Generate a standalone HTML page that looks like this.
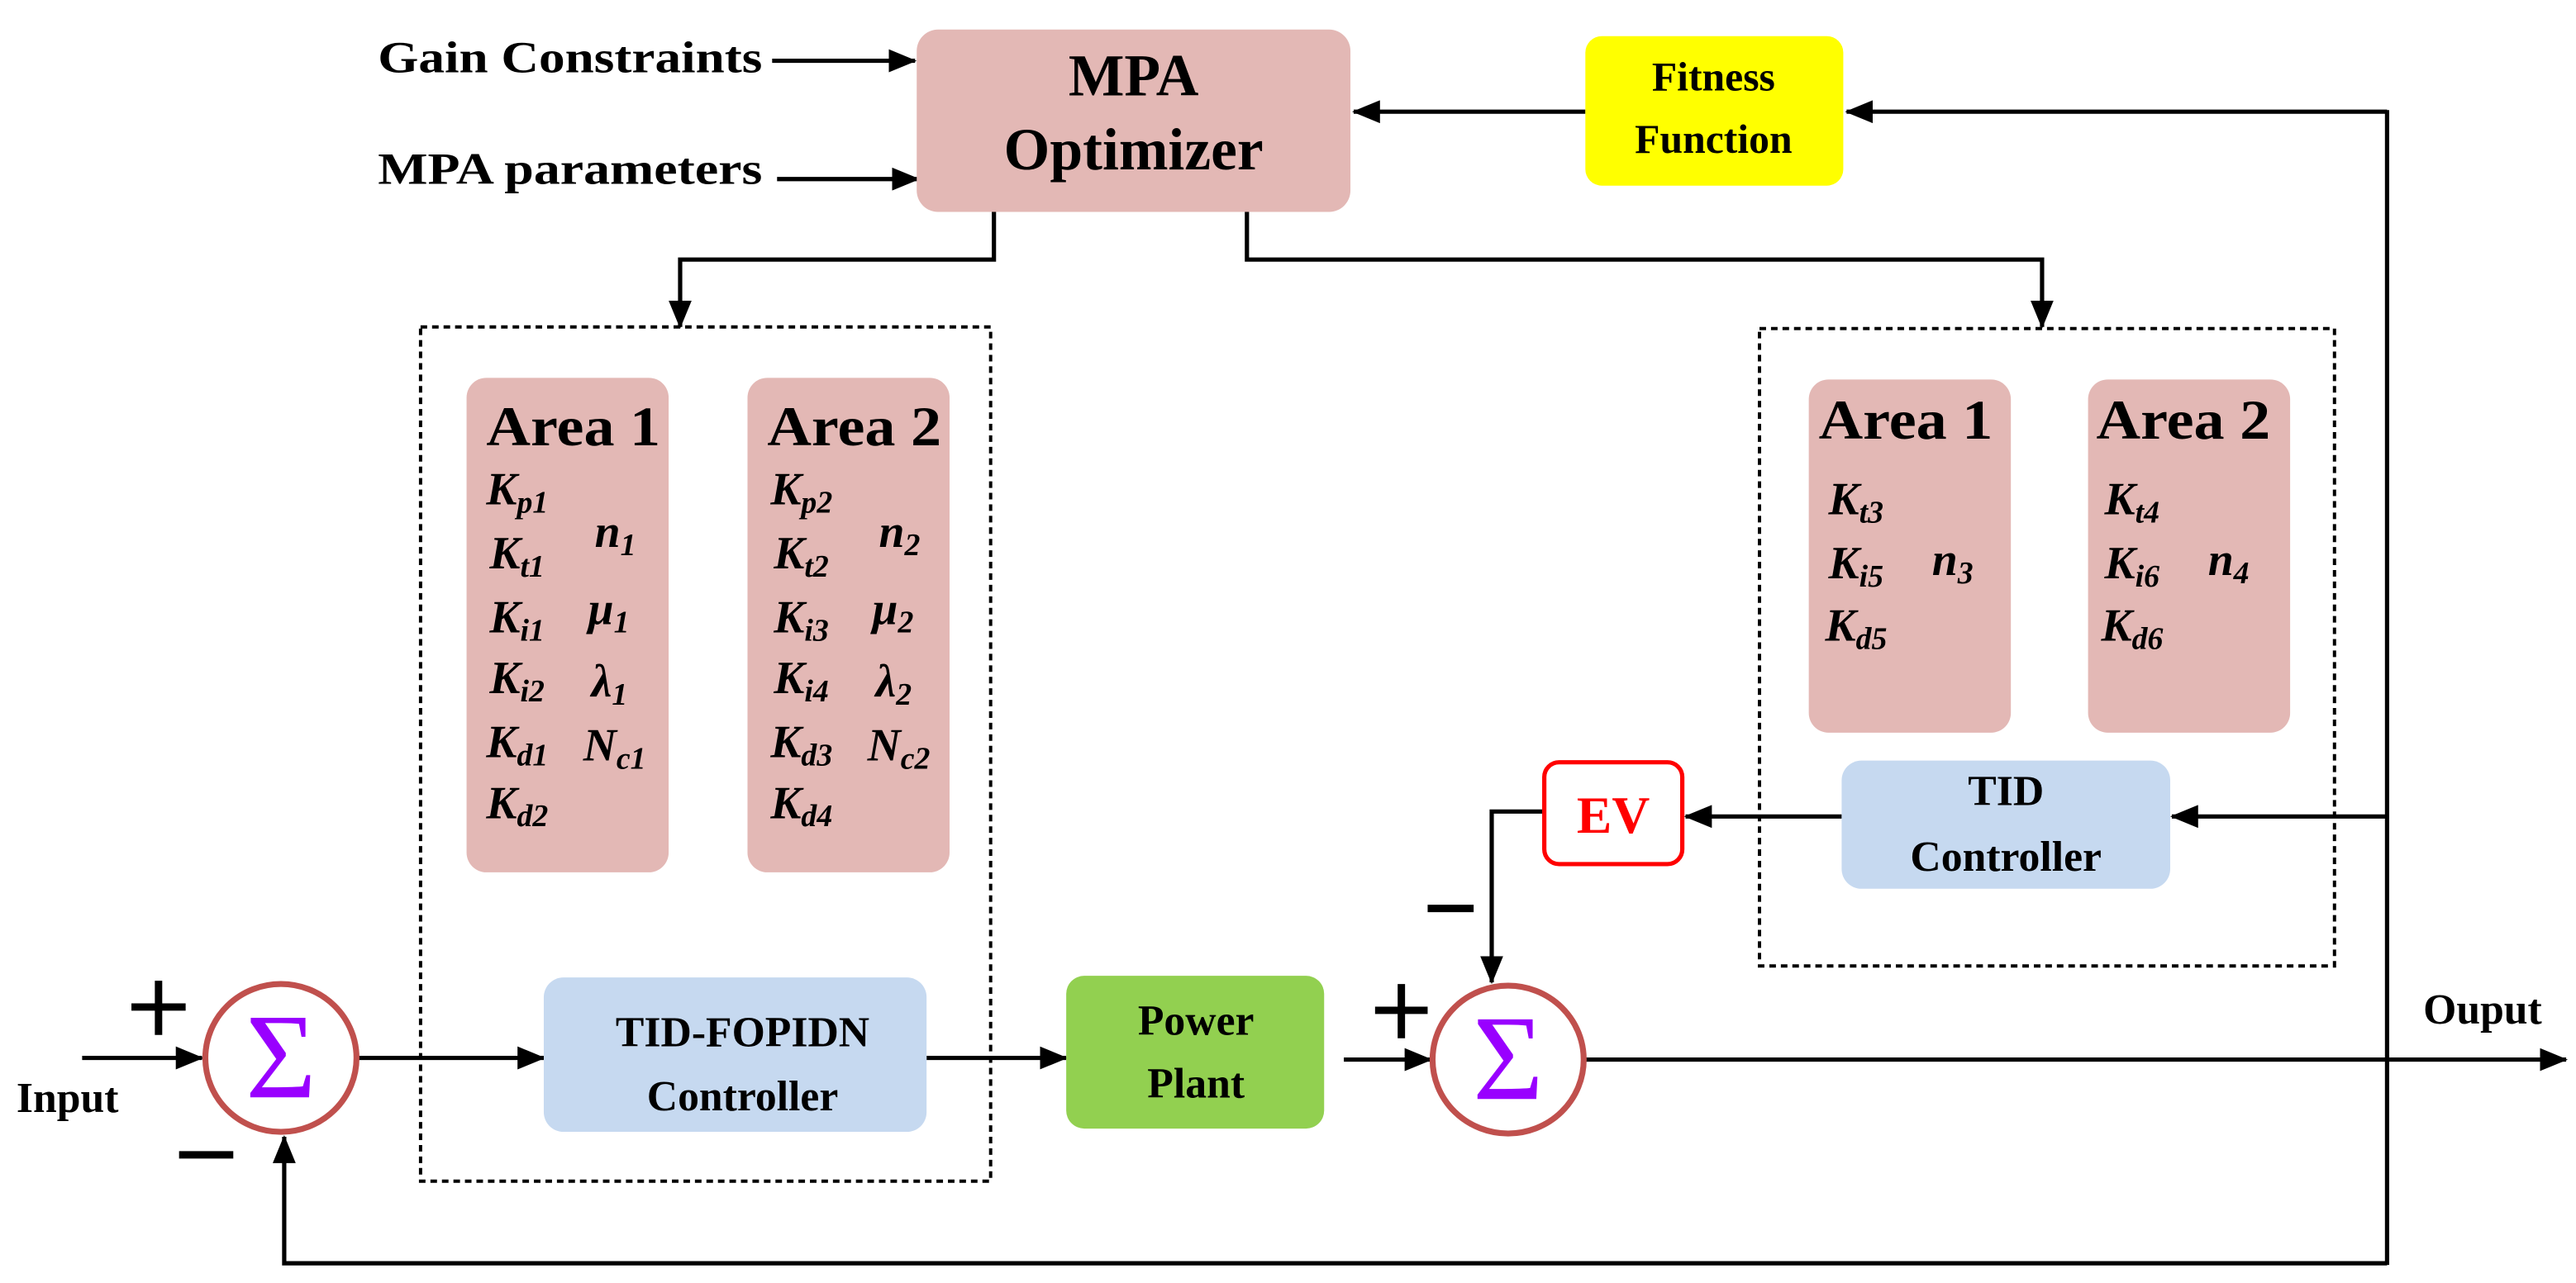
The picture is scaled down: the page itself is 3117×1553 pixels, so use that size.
<!DOCTYPE html>
<html><head><meta charset="utf-8"><style>html,body{margin:0;padding:0;background:#fff}svg{display:block}svg text{font-family:"Liberation Serif",serif;font-weight:bold}</style></head><body>
<svg width="3117" height="1553" viewBox="0 0 1568 781" preserveAspectRatio="none" xmlns="http://www.w3.org/2000/svg">
<defs>
<marker id="a" markerUnits="userSpaceOnUse" markerWidth="18" markerHeight="14" refX="16" refY="7" orient="auto"><path d="M0,0 L17,7 L0,14 z" fill="#000"/></marker>
</defs>
<g stroke="#000" stroke-width="2.6" fill="none">
<line x1="470" y1="37" x2="557" y2="37" marker-end="url(#a)"/>
<line x1="473" y1="109" x2="559" y2="109" marker-end="url(#a)"/>
<line x1="965" y1="68" x2="824" y2="68" marker-end="url(#a)"/>
<line x1="1453" y1="68" x2="1124" y2="68" marker-end="url(#a)"/>
<polyline points="605,128 605,158 414,158 414,199" marker-end="url(#a)"/>
<polyline points="759,128 759,158 1243,158 1243,199" marker-end="url(#a)"/>
<line x1="1453" y1="67" x2="1453" y2="770"/>
<polyline points="1453,769 173,769 173,692" marker-end="url(#a)"/>
<line x1="50" y1="644" x2="123" y2="644" marker-end="url(#a)"/>
<line x1="217" y1="644" x2="331" y2="644" marker-end="url(#a)"/>
<line x1="564" y1="644" x2="649" y2="644" marker-end="url(#a)"/>
<line x1="818" y1="645" x2="871" y2="645" marker-end="url(#a)"/>
<line x1="965" y1="645" x2="1562" y2="645" marker-end="url(#a)"/>
<line x1="1453" y1="497" x2="1322" y2="497" marker-end="url(#a)"/>
<line x1="1121" y1="497" x2="1026" y2="497" marker-end="url(#a)"/>
<polyline points="940,494 908,494 908,598" marker-end="url(#a)"/>
</g>
<g stroke="#000" stroke-width="2" stroke-dasharray="4,3" fill="none">
<rect x="256" y="199" width="347" height="520"/>
<rect x="1071" y="200" width="350" height="388"/>
</g>
<rect x="558" y="18" width="264" height="111" rx="13" fill="#e3b8b5"/>
<text x="690" y="58" font-size="36" text-anchor="middle">MPA</text>
<text x="690" y="103" font-size="36" text-anchor="middle">Optimizer</text>
<rect x="965" y="22" width="157" height="91" rx="10" fill="#ffff00"/>
<text x="1043" y="55" font-size="25" text-anchor="middle">Fitness</text>
<text x="1043" y="93" font-size="25" text-anchor="middle">Function</text>
<text x="230" y="44" font-size="27" textLength="234" lengthAdjust="spacingAndGlyphs">Gain Constraints</text>
<text x="230" y="112" font-size="27" textLength="234" lengthAdjust="spacingAndGlyphs">MPA parameters</text>
<rect x="284" y="230" width="123" height="301" rx="12" fill="#e3b8b5"/>
<rect x="455" y="230" width="123" height="301" rx="12" fill="#e3b8b5"/>
<rect x="1101" y="231" width="123" height="215" rx="12" fill="#e3b8b5"/>
<rect x="1271" y="231" width="123" height="215" rx="12" fill="#e3b8b5"/>
<g font-size="34">
<text x="296" y="271" textLength="106" lengthAdjust="spacingAndGlyphs">Area 1</text>
<text x="467" y="271" textLength="106" lengthAdjust="spacingAndGlyphs">Area 2</text>
<text x="1107" y="267" textLength="106" lengthAdjust="spacingAndGlyphs">Area 1</text>
<text x="1276" y="267" textLength="106" lengthAdjust="spacingAndGlyphs">Area 2</text>
</g>
<g font-size="28" font-style="italic">
<text x="296" y="307">K<tspan font-size="19" dy="5">p1</tspan></text>
<text x="298" y="346">K<tspan font-size="19" dy="5">t1</tspan></text>
<text x="298" y="385">K<tspan font-size="19" dy="5">i1</tspan></text>
<text x="298" y="422">K<tspan font-size="19" dy="5">i2</tspan></text>
<text x="296" y="461">K<tspan font-size="19" dy="5">d1</tspan></text>
<text x="296" y="498">K<tspan font-size="19" dy="5">d2</tspan></text>
<text x="362" y="333">n<tspan font-size="19" dy="5">1</tspan></text>
<text x="358" y="380">μ<tspan font-size="19" dy="5">1</tspan></text>
<text x="360" y="424">λ<tspan font-size="19" dy="5">1</tspan></text>
<text x="355" y="463">N<tspan font-size="19" dy="5">c1</tspan></text>
<text x="469" y="307">K<tspan font-size="19" dy="5">p2</tspan></text>
<text x="471" y="346">K<tspan font-size="19" dy="5">t2</tspan></text>
<text x="471" y="385">K<tspan font-size="19" dy="5">i3</tspan></text>
<text x="471" y="422">K<tspan font-size="19" dy="5">i4</tspan></text>
<text x="469" y="461">K<tspan font-size="19" dy="5">d3</tspan></text>
<text x="469" y="498">K<tspan font-size="19" dy="5">d4</tspan></text>
<text x="535" y="333">n<tspan font-size="19" dy="5">2</tspan></text>
<text x="531" y="380">μ<tspan font-size="19" dy="5">2</tspan></text>
<text x="533" y="424">λ<tspan font-size="19" dy="5">2</tspan></text>
<text x="528" y="463">N<tspan font-size="19" dy="5">c2</tspan></text>
<text x="1113" y="313">K<tspan font-size="19" dy="5">t3</tspan></text>
<text x="1113" y="352">K<tspan font-size="19" dy="5">i5</tspan></text>
<text x="1111" y="390">K<tspan font-size="19" dy="5">d5</tspan></text>
<text x="1176" y="350">n<tspan font-size="19" dy="5">3</tspan></text>
<text x="1281" y="313">K<tspan font-size="19" dy="5">t4</tspan></text>
<text x="1281" y="352">K<tspan font-size="19" dy="5">i6</tspan></text>
<text x="1279" y="390">K<tspan font-size="19" dy="5">d6</tspan></text>
<text x="1344" y="350">n<tspan font-size="19" dy="5">4</tspan></text>
</g>
<rect x="331" y="595" width="233" height="94" rx="12" fill="#c6d9f0"/>
<text x="452" y="637" font-size="26" text-anchor="middle">TID-FOPIDN</text>
<text x="452" y="676" font-size="26" text-anchor="middle">Controller</text>
<rect x="649" y="594" width="157" height="93" rx="11" fill="#92d050"/>
<text x="728" y="630" font-size="26" text-anchor="middle">Power</text>
<text x="728" y="668" font-size="26" text-anchor="middle">Plant</text>
<rect x="1121" y="463" width="200" height="78" rx="12" fill="#c6d9f0"/>
<text x="1221" y="490" font-size="26" text-anchor="middle">TID</text>
<text x="1221" y="530" font-size="26" text-anchor="middle">Controller</text>
<rect x="940" y="464" width="84" height="62" rx="9" fill="#fff" stroke="#ff0000" stroke-width="2.6"/>
<text x="982" y="507" font-size="32" fill="#ff0000" text-anchor="middle">EV</text>
<ellipse cx="171" cy="644" rx="46" ry="45" fill="#fff" stroke="#c0504d" stroke-width="3.6"/>
<text x="171" y="668" font-size="74" style="font-weight:normal" fill="#9900ff" text-anchor="middle">Σ</text>
<ellipse cx="918" cy="645" rx="46" ry="45" fill="#fff" stroke="#c0504d" stroke-width="3.6"/>
<text x="918" y="669" font-size="74" style="font-weight:normal" fill="#9900ff" text-anchor="middle">Σ</text>
<g stroke="#000" stroke-width="4.5">
<line x1="80" y1="613" x2="113" y2="613"/><line x1="96.5" y1="597" x2="96.5" y2="630"/>
<line x1="109" y1="703" x2="142" y2="703"/>
<line x1="837" y1="615" x2="869" y2="615"/><line x1="853" y1="599" x2="853" y2="632"/>
<line x1="869" y1="553" x2="897" y2="553"/>
</g>
<text x="10" y="677" font-size="26">Input</text>
<text x="1475" y="623" font-size="26">Ouput</text>
</svg>
</body></html>
